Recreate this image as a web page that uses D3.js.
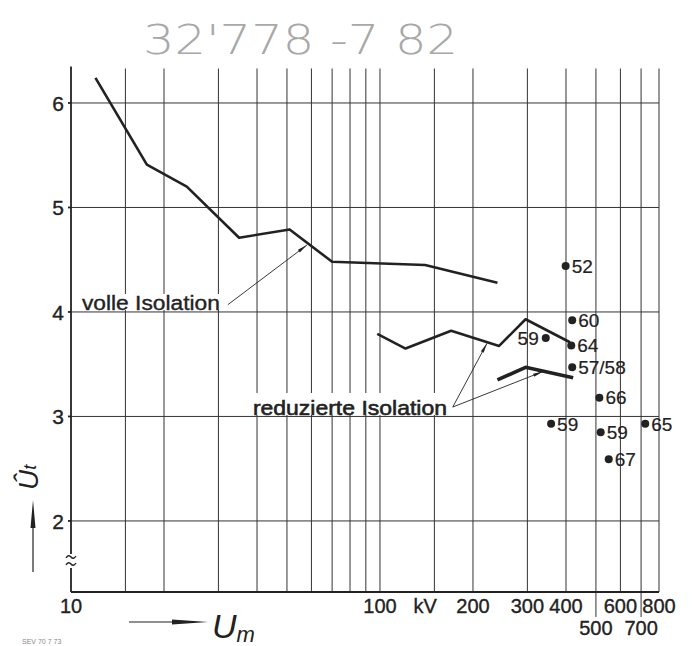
<!DOCTYPE html>
<html>
<head>
<meta charset="utf-8">
<script src="https://cdn.jsdelivr.net/npm/d3@7"></script>
<style>
  body { margin: 0; background: #fff; }
  svg { display: block; font-family: "Liberation Sans", Arial, sans-serif; }
</style>
</head>
<body>
<svg width="693" height="646"></svg>
<script>

// volle Isolation (kV, Ut)
var volleU = [12, 17.6, 23.7, 35, 51, 70, 140, 240];
var volleF = [6.24, 5.41, 5.2, 4.71, 4.79, 4.48, 4.45, 4.28];

// reduzierte Isolation, two curves
var red1U = [98, 121, 170, 243, 296, 412];
var red1F = [3.79, 3.65, 3.82, 3.675, 3.93, 3.71];
var red2U = [240, 296, 422];
var red2F = [3.35, 3.47, 3.37];

// single points with their labels
var ptU = [399, 419, 344, 416, 419, 513, 358, 518, 550, 722];
var ptF = [4.44, 3.92, 3.75, 3.68, 3.47, 3.18, 2.93, 2.85, 2.59, 2.93];
var ptLabel = ["52", "60", "59", "64", "57/58", "66", "59", "59", "67", "65"];

// grid + ticks
var gridU = [15, 20, 30, 40, 50, 60, 70, 80, 90, 100, 150, 200, 300, 400, 500, 600, 700, 800];
var gridF = [2, 3, 4, 5, 6];
var tickRow1 = [10, 100, 200, 300, 400, 600, 800];
var tickRow2 = [500, 700];

var svg = d3.select("svg");

var x = d3.scaleLog().domain([10, 800]).range([71, 659]);
var y = d3.scaleLinear().domain([1.32, 6.35]).range([592, 66.4]);

var zip = function(a, b) { return a.map(function(v, i) { return [v, b[i]]; }); };
var line = d3.line()
    .x(function(d) { return x(d[0]); })
    .y(function(d) { return y(d[1]); });

var ink = "#222";

// handwritten note at the top
svg.append("text")
    .attr("x", 143).attr("y", 54)
    .attr("fill", "#a8a8a8")
    .style("font", "200 40px 'DejaVu Sans', sans-serif")
    .attr("textLength", 315)
    .attr("lengthAdjust", "spacingAndGlyphs")
    .text("32'778 -7 82");

var g = svg.append("g");

// vertical grid
g.selectAll(".vgrid")
    .data(gridU)
  .enter().append("line")
    .attr("class", "vgrid")
    .attr("x1", function(d) { return x(d); })
    .attr("x2", function(d) { return x(d); })
    .attr("y1", y(6.33))
    .attr("y2", function(d) { return (d == 500 || d == 700) ? 617 : y.range()[0]; })
    .attr("stroke", "#333")
    .attr("stroke-width", 1);

// horizontal grid
g.selectAll(".hgrid")
    .data(gridF)
  .enter().append("line")
    .attr("class", "hgrid")
    .attr("x1", x(10))
    .attr("x2", x(800))
    .attr("y1", function(d) { return y(d); })
    .attr("y2", function(d) { return y(d); })
    .attr("stroke", "#333")
    .attr("stroke-width", 1);

// x axis line
g.append("line")
    .attr("x1", x(10)).attr("x2", x(800))
    .attr("y1", y.range()[0]).attr("y2", y.range()[0])
    .attr("stroke", ink).attr("stroke-width", 1.8);

// y axis with break
var yb0 = 554, yb1 = 568;
g.append("line")
    .attr("x1", x(10)).attr("x2", x(10))
    .attr("y1", y(6.35)).attr("y2", yb0)
    .attr("stroke", ink).attr("stroke-width", 1.8);
g.append("line")
    .attr("x1", x(10)).attr("x2", x(10))
    .attr("y1", yb1).attr("y2", y.range()[0])
    .attr("stroke", ink).attr("stroke-width", 1.8);
[556, 563].forEach(function(yy) {
  g.append("path")
      .attr("d", "M" + (x(10) - 5) + "," + (yy + 2) + " q2.5,-4 5,-1 q2.5,3 5,-1")
      .attr("fill", "none").attr("stroke", ink).attr("stroke-width", 1.4);
});

// y ticks
g.selectAll(".ytick")
    .data(gridF)
  .enter().append("line")
    .attr("x1", x(10) - 3).attr("x2", x(10))
    .attr("y1", function(d) { return y(d); })
    .attr("y2", function(d) { return y(d); })
    .attr("stroke", ink).attr("stroke-width", 1.8);

var label = function(sel, size) {
  return sel.attr("fill", ink)
      .attr("stroke", ink)
      .attr("stroke-width", 0.35)
      .style("font-size", size + "px");
};

label(g.selectAll(".ylab")
    .data(gridF)
  .enter().append("text")
    .attr("x", 64)
    .attr("y", function(d) { return y(d); })
    .attr("dy", "0.36em")
    .attr("text-anchor", "end"), 21)
    .text(function(d) { return d; });

// x labels
label(g.selectAll(".xlab1")
    .data(tickRow1)
  .enter().append("text")
    .attr("x", function(d) { return x(d); })
    .attr("y", 613)
    .attr("text-anchor", "middle"), 20)
    .text(function(d) { return d; });
label(g.append("text")
    .attr("x", x(140)).attr("y", 613)
    .attr("text-anchor", "middle"), 20)
    .text("kV");
label(g.selectAll(".xlab2")
    .data(tickRow2)
  .enter().append("text")
    .attr("x", function(d) { return x(d); })
    .attr("y", 635)
    .attr("text-anchor", "middle"), 20)
    .text(function(d) { return d; });

// axis titles with arrows
g.append("line")
    .attr("x1", 129).attr("x2", 180).attr("y1", 622).attr("y2", 622)
    .attr("stroke", ink).attr("stroke-width", 1.2);
g.append("path")
    .attr("d", "M172,619.5 L208,622 L172,624.5 Z")
    .attr("fill", ink);
var um = g.append("text")
    .attr("x", 212).attr("y", 638)
    .attr("fill", ink)
    .style("font-size", "34px")
    .style("font-style", "italic");
um.append("tspan").text("U");
um.append("tspan").attr("dy", 4).style("font-size", "22px").text("m");

g.append("line")
    .attr("x1", 33).attr("x2", 33).attr("y1", 572).attr("y2", 520)
    .attr("stroke", ink).attr("stroke-width", 1.2);
g.append("path")
    .attr("d", "M30.5,528 L33,500 L35.5,528 Z")
    .attr("fill", ink);
var ut = g.append("text")
    .attr("transform", "translate(38,490) rotate(-90)")
    .attr("fill", ink)
    .style("font-size", "28px")
    .style("font-style", "italic");
ut.append("tspan").text("\u00DB");
ut.append("tspan").attr("dy", -2).style("font-size", "18px").text("t");

// annotation backgrounds (cut the grid like the drawing does)
g.append("rect")
    .attr("x", 80).attr("y", 294).attr("width", 142).attr("height", 16)
    .attr("fill", "#fff");
g.append("rect")
    .attr("x", 251).attr("y", 393).attr("width", 198).attr("height", 22)
    .attr("fill", "#fff");

// curves
g.append("path")
    .datum(zip(volleU, volleF))
    .attr("d", line)
    .attr("fill", "none").attr("stroke", ink).attr("stroke-width", 2.6)
    .attr("stroke-linejoin", "round");
g.append("path")
    .datum(zip(red1U, red1F))
    .attr("d", line)
    .attr("fill", "none").attr("stroke", ink).attr("stroke-width", 2.6)
    .attr("stroke-linejoin", "round");
g.append("path")
    .datum(zip(red2U, red2F))
    .attr("d", line)
    .attr("fill", "none").attr("stroke", ink).attr("stroke-width", 3.6)
    .attr("stroke-linejoin", "round");

// annotation texts and leader lines
label(g.append("text")
    .attr("x", x(10.85)).attr("y", y(4.02))
    .attr("textLength", 138)
    .attr("lengthAdjust", "spacingAndGlyphs"), 20)
    .text("volle Isolation");
label(g.append("text")
    .attr("x", x(38.8)).attr("y", y(3.015))
    .attr("textLength", 194)
    .attr("lengthAdjust", "spacingAndGlyphs"), 21)
    .attr("stroke-width", 0.6)
    .text("reduzierte Isolation");

var leaders = [
  [[32.2, 4.07], [58, 4.64]],
  [[172, 3.09], [222, 3.70]],
  [[172, 3.09], [337, 3.43]]
];
leaders.forEach(function(l) {
  var x0 = x(l[0][0]), y0 = y(l[0][1]), x1 = x(l[1][0]), y1 = y(l[1][1]);
  var a = Math.atan2(y1 - y0, x1 - x0);
  g.append("line")
      .attr("x1", x0).attr("y1", y0).attr("x2", x1).attr("y2", y1)
      .attr("stroke", ink).attr("stroke-width", 0.9);
  var hl = 10, hw = 1.6;
  g.append("path")
      .attr("d", "M" + x1 + "," + y1 +
          " L" + (x1 - hl * Math.cos(a) - hw * Math.sin(a)) + "," + (y1 - hl * Math.sin(a) + hw * Math.cos(a)) +
          " L" + (x1 - hl * Math.cos(a) + hw * Math.sin(a)) + "," + (y1 - hl * Math.sin(a) - hw * Math.cos(a)) + " Z")
      .attr("fill", ink);
});

// points
var pts = ptU.map(function(u, i) { return {u: u, f: ptF[i], label: ptLabel[i], left: i == 2}; });

g.selectAll(".pt")
    .data(pts)
  .enter().append("circle")
    .attr("cx", function(d) { return x(d.u); })
    .attr("cy", function(d) { return y(d.f); })
    .attr("r", 4)
    .attr("fill", ink);

label(g.selectAll(".ptlab")
    .data(pts)
  .enter().append("text")
    .attr("x", function(d) { return x(d.u) + (d.left ? -7 : 6); })
    .attr("y", function(d) { return y(d.f); })
    .attr("dy", "0.36em")
    .attr("text-anchor", function(d) { return d.left ? "end" : "start"; }), 19)
    .attr("stroke-width", 0.2)
    .text(function(d) { return d.label; });

// stamp at bottom left
svg.append("text")
    .attr("x", 22).attr("y", 644)
    .attr("fill", "#888")
    .style("font-size", "7px")
    .text("SEV 70 7 73");

</script>
</body>
</html>
